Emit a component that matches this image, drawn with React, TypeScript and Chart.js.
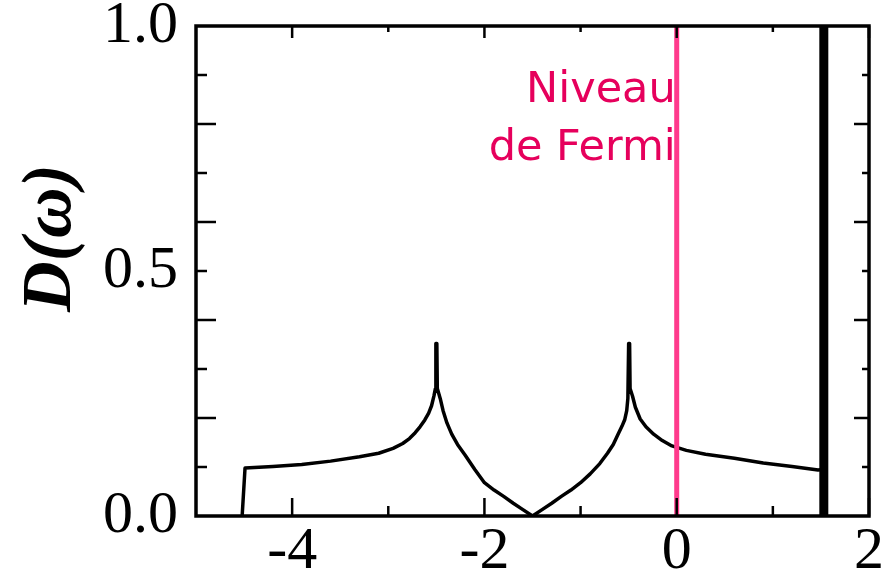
import React, { useEffect, useRef } from "react";
import { Chart, registerables } from "chart.js";

Chart.register(...registerables);

// Density of states D(ω)
const dosX = [
  -4.52, -4.49, -4.2, -3.9, -3.6, -3.3, -3.1, -2.95, -2.85, -2.78, -2.72, -2.67, -2.62, -2.58, -2.55,
  -2.525, -2.51, -2.505, -2.495, -2.49, -2.46, -2.43, -2.39, -2.34, -2.28, -2.2, -2.1, -2.0, -1.9,
  -1.8, -1.7, -1.6, -1.5, -1.4, -1.3, -1.2, -1.1, -1.0, -0.9, -0.8, -0.72, -0.66, -0.61, -0.57,
  -0.54, -0.52, -0.508, -0.5, -0.49, -0.485, -0.46, -0.43, -0.38, -0.32, -0.24, -0.15, -0.05, 0.1,
  0.3, 0.6, 0.9, 1.2, 1.47, 1.52,
];
const dosY = [
  0.0, 0.098, 0.101, 0.105, 0.112, 0.121, 0.128, 0.138, 0.148, 0.158, 0.17, 0.182, 0.196, 0.21, 0.225,
  0.245, 0.26, 0.352, 0.352, 0.26, 0.24, 0.215, 0.19, 0.167, 0.146, 0.124, 0.095, 0.068, 0.053,
  0.04, 0.026, 0.013, 0.0, 0.013, 0.026, 0.04, 0.053, 0.068, 0.086, 0.107, 0.128, 0.146, 0.167, 0.183,
  0.197, 0.215, 0.24, 0.352, 0.352, 0.26, 0.245, 0.222, 0.198, 0.182, 0.167, 0.154, 0.143, 0.134,
  0.126, 0.118, 0.108, 0.101, 0.094, 0.095,
];
// flat band (delta peak)
const flatBandX = [1.53, 1.53];
const flatBandY = [0, 1.02];
// Fermi level
const fermiX = [0, 0];
const fermiY = [0, 1.02];

const xTickValues = [-4, -2, 0, 2];
const xMinorValues = [-3, -1, 1];
const yTickValues = [0, 0.5, 1.0];
const yMinorValues = [0.1, 0.2, 0.3, 0.4, 0.5, 0.6, 0.7, 0.8, 0.9];
const fermiLabel = ["Niveau", "de Fermi"];
const yTitle = "D(ω)";

const toPts = (xs: number[], ys: number[]) => xs.map((x, i) => ({ x, y: ys[i] }));

const framePlugin = {
  id: "frameTicks",
  afterDatasetsDraw(chart: any) {
    const { ctx, chartArea: a, scales } = chart;
    const xs = scales.x;
    const ys = scales.y;
    ctx.save();
    ctx.strokeStyle = "#000";
    ctx.lineWidth = 2.5;
    ctx.lineCap = "butt";
    const line = (x1: number, y1: number, x2: number, y2: number) => {
      ctx.beginPath();
      ctx.moveTo(x1, y1);
      ctx.lineTo(x2, y2);
      ctx.stroke();
    };
    // x ticks (inward), bottom and top
    xTickValues.forEach((v) => {
      const px = xs.getPixelForValue(v);
      line(px, a.bottom, px, a.bottom - 18);
      line(px, a.top, px, a.top + 12);
    });
    xMinorValues.forEach((v) => {
      const px = xs.getPixelForValue(v);
      line(px, a.bottom, px, a.bottom - 10);
      line(px, a.top, px, a.top + 6);
    });
    // y ticks
    yMinorValues.forEach((v, i) => {
      const py = ys.getPixelForValue(v);
      const long = (i + 1) % 2 === 0;
      line(a.left, py, a.left + (long ? 20 : 11), py);
      line(a.right, py, a.right - (long ? 15 : 7), py);
    });
    // frame
    ctx.lineWidth = 3.5;
    ctx.strokeRect(a.left, a.top, a.right - a.left, a.bottom - a.top);
    ctx.restore();
  },
  afterDraw(chart: any) {
    const { ctx, scales } = chart;
    const xs = scales.x;
    const ys = scales.y;
    ctx.save();
    // Fermi label
    ctx.fillStyle = "#e6005c";
    ctx.font = '43px "DejaVu Sans"';
    ctx.textAlign = "right";
    ctx.textBaseline = "alphabetic";
    const rx = xs.getPixelForValue(0) - 1;
    ctx.fillText(fermiLabel[0], rx, ys.getPixelForValue(0.844));
    ctx.fillText(fermiLabel[1], rx, ys.getPixelForValue(0.727));
    // y title
    ctx.fillStyle = "#000";
    ctx.font = 'italic bold 70px "Liberation Serif"';
    ctx.textAlign = "center";
    ctx.textBaseline = "middle";
    ctx.translate(52, 238);
    ctx.rotate(-Math.PI / 2);
    ctx.fillText(yTitle, 0, 0);
    ctx.restore();
  },
};

export default function App() {
  const ref = useRef<HTMLCanvasElement | null>(null);
  useEffect(() => {
    if (!ref.current) return;
    const chart = new Chart(ref.current, {
      type: "scatter",
      data: {
        datasets: [
          {
            data: toPts(fermiX, fermiY),
            showLine: true,
            borderColor: "#ff3a8c",
            borderWidth: 5,
            pointRadius: 0,
            order: 0,
          },
          {
            data: toPts(dosX, dosY),
            showLine: true,
            borderColor: "#000",
            borderWidth: 3.5,
            borderJoinStyle: "round",
            pointRadius: 0,
            tension: 0,
            order: 1,
          },
          {
            data: toPts(flatBandX, flatBandY),
            showLine: true,
            borderColor: "#000",
            borderWidth: 9,
            pointRadius: 0,
            order: 2,
          },
        ],
      },
      options: {
        animation: false,
        responsive: false,
        devicePixelRatio: 1,
        layout: { padding: { top: 26, right: 16, left: 0, bottom: 0 } },
        plugins: { legend: { display: false }, tooltip: { enabled: false } },
        scales: {
          x: {
            type: "linear",
            min: -5,
            max: 2,
            grid: { display: false, drawTicks: false },
            border: { display: false },
            afterBuildTicks: (s: any) => {
              s.ticks = xTickValues.map((v) => ({ value: v }));
            },
            afterFit: (s: any) => {
              s.height = 55;
              s.paddingLeft = 0;
              s.paddingRight = 0;
            },
            ticks: {
              color: "#000",
              font: { family: "Liberation Serif", size: 60 },
              padding: 0,
              maxRotation: 0,
              autoSkip: false,
              callback: (v: any) => String(v),
            },
          },
          y: {
            type: "linear",
            min: 0,
            max: 1,
            grid: { display: false, drawTicks: false },
            border: { display: false },
            afterBuildTicks: (s: any) => {
              s.ticks = yTickValues.map((v) => ({ value: v }));
            },
            afterFit: (s: any) => {
              s.width = 196;
              s.paddingTop = 0;
              s.paddingBottom = 0;
            },
            ticks: {
              color: "#000",
              font: { family: "Liberation Serif", size: 60 },
              padding: 18,
              autoSkip: false,
              callback: (v: any) => Number(v).toFixed(1),
            },
          },
        },
      },
      plugins: [framePlugin],
    });
    return () => chart.destroy();
  }, []);
  return (
    <div style={{ position: "fixed", left: 0, top: 0, width: 885, height: 571, background: "#fff" }}>
      <canvas ref={ref} width={885} height={571} />
    </div>
  );
}
